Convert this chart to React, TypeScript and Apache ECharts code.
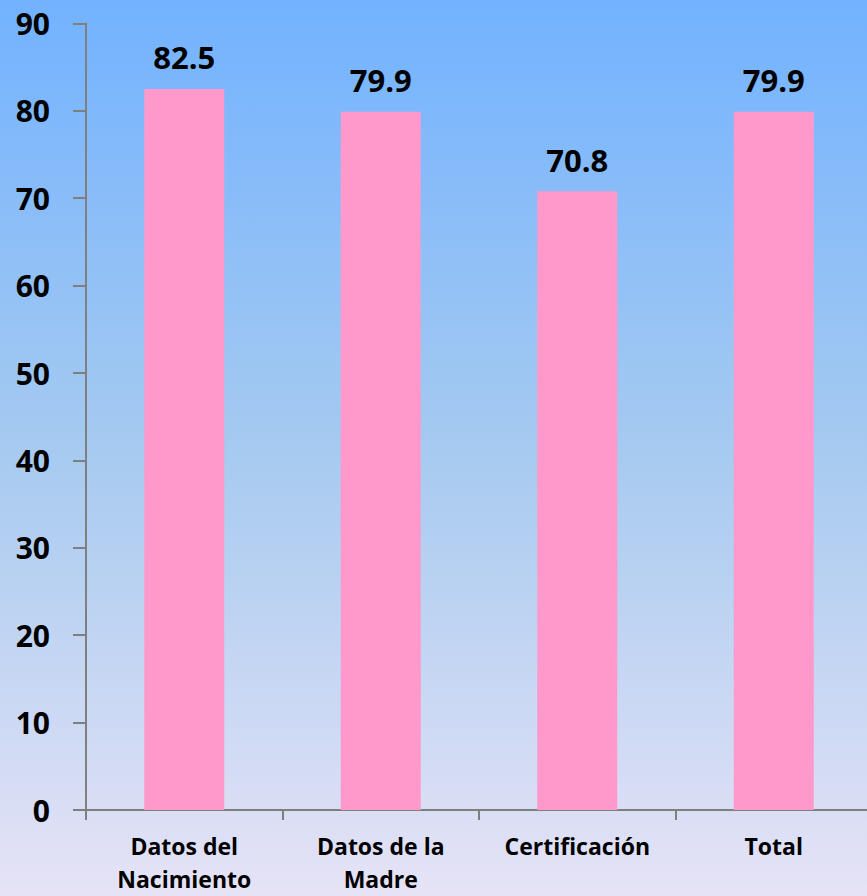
import React, { useEffect, useRef } from "react";
import * as echarts from "echarts";

const categories = ["Datos del\nNacimiento", "Datos de la\nMadre", "Certificación", "Total"];
const values = [82.5, 79.9, 70.8, 79.9];
const yMin = 0;
const yMax = 90;
const yInterval = 10;

export default function App() {
  const ref = useRef<HTMLDivElement>(null);
  useEffect(() => {
    if (!ref.current) return;
    const chart = echarts.init(ref.current, undefined, { renderer: "svg" });
    const font = "'Open Sans', 'Noto Sans', sans-serif";
    chart.setOption({
      animation: false,
      backgroundColor: new echarts.graphic.LinearGradient(0, 0, 0, 1, [
        { offset: 0, color: "#72b2ff" },
        { offset: 0.5, color: "#a6caf0" },
        { offset: 1, color: "#e6e3f6" },
      ]),
      grid: {
        left: 86,
        top: 23.4,
        bottom: 86,
        width: 786,
        containLabel: false,
        outerBoundsMode: "none",
      },
      xAxis: {
        type: "category",
        data: categories,
        axisLine: { lineStyle: { color: "#7f7f7f", width: 2 } },
        axisTick: { show: true, length: 10, lineStyle: { color: "#7f7f7f", width: 2 } },
        axisLabel: {
          color: "#000",
          fontFamily: font,
          fontWeight: "bold",
          fontSize: 23,
          lineHeight: 33,
          margin: 19,
          interval: 0,
        },
      },
      yAxis: {
        type: "value",
        min: yMin,
        max: yMax,
        interval: yInterval,
        splitLine: { show: false },
        axisLine: { show: true, lineStyle: { color: "#7f7f7f", width: 2 } },
        axisTick: { show: true, length: 13, lineStyle: { color: "#7f7f7f", width: 2 } },
        axisLabel: {
          color: "#000",
          fontFamily: font,
          fontWeight: "bold",
          fontSize: 30,
          margin: 36,
        },
      },
      series: [
        {
          type: "bar",
          data: values,
          barWidth: 80,
          itemStyle: { color: "#ff99cc" },
          label: {
            show: true,
            position: "top",
            distance: 16,
            color: "#000",
            fontFamily: font,
            fontWeight: "bold",
            fontSize: 31,
            formatter: (p: any) => p.value.toFixed(1),
          },
        },
      ],
    });
    return () => chart.dispose();
  }, []);
  return (
    <div
      ref={ref}
      style={{ position: "fixed", left: 0, top: 0, width: 867, height: 896 }}
    />
  );
}
